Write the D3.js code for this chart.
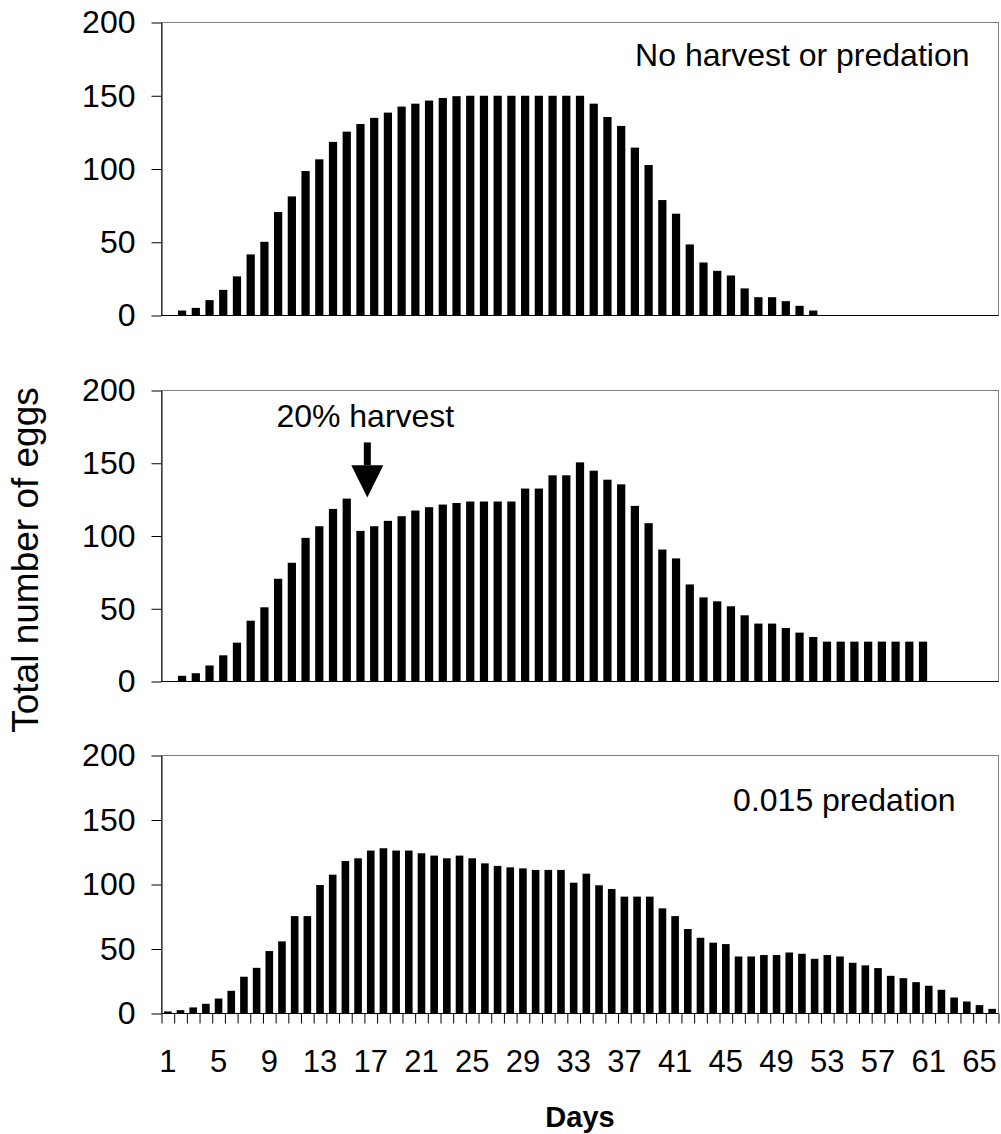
<!DOCTYPE html>
<html>
<head>
<meta charset="utf-8">
<script src="https://cdn.jsdelivr.net/npm/d3@7"></script>
<style>
body { margin: 0; background: #fff; }
text { font-family: "Liberation Sans", Arial, sans-serif; fill: #000; }
</style>
</head>
<body>
<div class="chart"></div>
<script>
// days (categories): top two panels have 61 slots, bottom one has 66
const daysShort = d3.range(1, 62);
const daysLong = d3.range(1, 67);
const dayLabels = [1, 5, 9, 13, 17, 21, 25, 29, 33, 37, 41, 45, 49, 53, 57, 61, 65];
const yTicks = [0, 50, 100, 150, 200];

// total number of eggs per day
const noHarvest = [0, 3.4, 5.2, 10.5, 17.5, 26.7, 41.7, 50.3, 70.6, 81.3,
  98.6, 106.6, 118.5, 125.5, 130.7, 134.9, 138.5, 142.6, 144.6, 146.7,
  148.5, 149.7, 150, 150, 150, 150, 150, 150, 150, 150,
  150, 144.6, 135.5, 129.4, 114.6, 102.7, 78.8, 69.5, 48.5, 36.2,
  30.5, 27.3, 18.5, 12.5, 12.5, 9.8, 6.6, 3.4, 0, 0,
  0, 0, 0, 0, 0, 0, 0, 0, 0, 0, 0];

const harvest20 = [0, 3.9, 5.7, 11, 18, 26.7, 41.8, 51, 70.6, 81.6,
  98.7, 106.7, 118.6, 125.7, 103.5, 106.7, 110.4, 113.6, 117.5, 119.8,
  121.6, 122.7, 123.7, 123.7, 123.7, 123.7, 132.6, 132.6, 141.7, 141.7,
  150.6, 144.9, 138.7, 135.5, 120.7, 108.8, 90.7, 84.6, 66.7, 57.8,
  55.1, 51.7, 45.5, 39.8, 39.8, 36.8, 33.6, 30.6, 27.4, 27.4,
  27.4, 27.4, 27.4, 27.4, 27.4, 27.4, 0, 0, 0, 0, 0];

const predation = [1.6, 2.6, 4.7, 7.5, 11.6, 17.6, 28.5, 35.4, 48.4, 55.9,
  75.5, 75.5, 99.6, 107.6, 118.2, 120.3, 126.3, 128.1, 126.3, 126.3,
  124.2, 122.4, 120.3, 122.4, 120.3, 116.4, 114.4, 113.3, 112.5, 111.3,
  111.3, 111.3, 101.4, 108.4, 99.4, 96.5, 90.6, 90.6, 90.6, 81.5,
  75.5, 65.5, 58.7, 54.9, 53.8, 44.2, 44.2, 45.3, 45.3, 47.3,
  46.3, 42.4, 45.3, 44.2, 39.3, 37.3, 35.2, 29.2, 27.4, 24.3,
  21.5, 18.4, 12.4, 9.3, 6.5, 3.6];

const harvestDay = 16;

const W = 1001, H = 1134;
const left = 161.5, right = 998.5;

const panels = [
  { values: noHarvest, days: daysShort, top: 22.5, bottom: 315.5,
    title: "No harvest or predation", titleRight: 29, titleAt: 170.3 },
  { values: harvest20, days: daysShort, top: 390.5, bottom: 681.5 },
  { values: predation, days: daysLong, top: 755.5, bottom: 1013.5,
    title: "0.015 predation", titleRight: 43, titleAt: 157.3, xAxis: true }
];

const svg = d3.select(".chart").append("svg")
  .attr("width", W)
  .attr("height", H);

panels.forEach((p, i) => {
  const x = d3.scaleBand().domain(p.days).range([left, right])
    .paddingInner(0.4).paddingOuter(0.2);
  const y = d3.scaleLinear().domain([0, 200]).range([p.bottom, p.top]);

  const g = svg.append("g").attr("class", "panel panel-" + i);

  // plot area frame
  g.append("rect")
    .attr("x", left).attr("y", p.top)
    .attr("width", right - left).attr("height", p.bottom - p.top)
    .attr("fill", "none").attr("stroke", "#808080");

  g.selectAll(".bar")
    .data(p.values)
    .join("rect")
    .attr("class", "bar")
    .attr("x", (d, j) => x(p.days[j]))
    .attr("y", d => y(d))
    .attr("width", x.bandwidth())
    .attr("height", d => y(0) - y(d))
    .attr("fill", "#000");

  const yAxis = d3.axisLeft(y).tickValues(yTicks).tickSize(10).tickSizeOuter(0).tickPadding(16);
  g.append("g")
    .attr("class", "axis y-axis")
    .attr("transform", `translate(${left},0)`)
    .call(yAxis)
    .call(a => a.selectAll("text").attr("font-size", 32).attr("font-family", null))
    .call(a => a.selectAll("line, path").attr("stroke", "#000"));

  // baseline
  g.append("line")
    .attr("x1", left).attr("x2", right)
    .attr("y1", y(0)).attr("y2", y(0))
    .attr("stroke", "#000");

  if (p.xAxis) {
    const edges = d3.scaleLinear().domain([0.5, p.days.length + 0.5]).range([left, right]);
    g.append("g")
      .attr("class", "axis x-ticks")
      .attr("transform", `translate(0,${y(0)})`)
      .call(d3.axisBottom(edges).tickValues(d3.range(0.5, p.days.length + 1, 1))
        .tickSize(10).tickSizeOuter(0).tickFormat(""))
      .call(a => a.select(".domain").remove())
      .call(a => a.selectAll("line").attr("stroke", "#000"));

    g.append("g")
      .attr("class", "axis x-axis")
      .attr("transform", `translate(0,${y(0)})`)
      .call(d3.axisBottom(x).tickValues(dayLabels).tickSize(0))
      .call(a => a.select(".domain").remove())
      .call(a => a.selectAll("text")
        .attr("font-size", 31).attr("font-family", null)
        .attr("dy", null).attr("y", 58));
  }

  if (p.title) {
    g.append("text")
      .attr("x", right - p.titleRight)
      .attr("y", y(p.titleAt))
      .attr("text-anchor", "end")
      .attr("font-size", 32)
      .text(p.title);
  }

  if (i === 1) {
    // harvest arrow between day 15 and day 16
    const ax = x(harvestDay) - x.step() * 0.2;
    g.append("text")
      .attr("x", ax - 2)
      .attr("y", y(174.8))
      .attr("text-anchor", "middle")
      .attr("font-size", 32)
      .text("20% harvest");
    g.append("rect")
      .attr("x", ax - 3.5).attr("y", y(164.3))
      .attr("width", 7).attr("height", y(148.6) - y(164.3))
      .attr("fill", "#000");
    g.append("path")
      .attr("d", `M${ax - 16},${y(148.6)}L${ax + 16},${y(148.6)}L${ax},${y(126.4)}Z`)
      .attr("fill", "#000");
  }
});

svg.append("text")
  .attr("transform", "translate(38,560) rotate(-90)")
  .attr("text-anchor", "middle")
  .attr("font-size", 37)
  .text("Total number of eggs");

svg.append("text")
  .attr("x", (left + right) / 2)
  .attr("y", 1127)
  .attr("text-anchor", "middle")
  .attr("font-size", 29)
  .attr("font-weight", "bold")
  .text("Days");
</script>
</body>
</html>
